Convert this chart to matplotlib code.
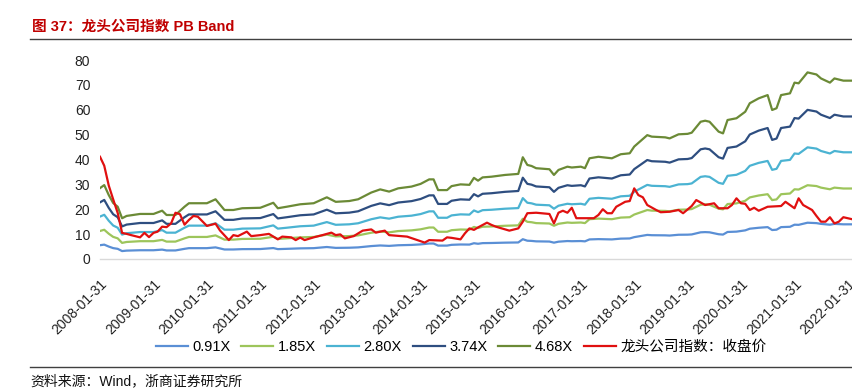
import matplotlib
matplotlib.use('Agg')
import matplotlib.pyplot as plt
import matplotlib.dates as mdates
from matplotlib.lines import Line2D
import numpy as np
import pandas as pd

plt.rcParams['font.family'] = ['Liberation Sans', 'Noto Sans CJK SC', 'DejaVu Sans']

# ---------------- data ----------------
title = '图 37：龙头公司指数 PB Band'
source = '资料来源：Wind，浙商证券研究所'

pb_multiples = [0.91, 1.85, 2.80, 3.74, 4.68]
band_labels = ['0.91X', '1.85X', '2.80X', '3.74X', '4.68X']
close_label = '龙头公司指数：收盘价'

# book value per share (month-end)
bvps_dates = ['2008-01', '2008-02', '2008-03', '2008-04', '2008-05', '2008-06', '2008-07', '2008-10',
              '2009-01', '2009-03', '2009-04', '2009-06', '2009-08', '2009-09',
              '2010-01', '2010-03', '2010-05', '2010-07', '2010-09',
              '2011-01', '2011-04', '2011-05', '2011-07', '2011-10',
              '2012-01', '2012-04', '2012-06', '2012-09', '2012-11',
              '2013-02', '2013-04', '2013-06', '2013-08', '2013-11',
              '2014-01', '2014-03', '2014-04', '2014-05', '2014-07', '2014-08', '2014-10', '2014-12',
              '2015-01', '2015-02', '2015-03', '2015-05', '2015-08', '2015-11', '2015-12',
              '2016-01', '2016-02', '2016-03', '2016-06', '2016-07', '2016-08', '2016-10', '2016-11',
              '2017-01', '2017-02', '2017-03', '2017-05', '2017-08', '2017-10', '2017-12',
              '2018-01', '2018-04', '2018-05', '2018-08', '2018-09', '2018-11',
              '2019-01', '2019-02', '2019-04', '2019-05', '2019-06', '2019-08', '2019-09', '2019-10', '2019-12',
              '2020-02', '2020-03', '2020-05', '2020-07', '2020-08', '2020-09', '2020-10', '2020-12',
              '2021-01', '2021-02', '2021-04', '2021-06', '2021-07', '2021-09', '2021-10', '2021-12',
              '2022-02']
bvps = [6.09, 6.35, 5.49, 4.81, 4.49, 3.50, 3.70, 3.87,
        3.87, 4.15, 3.78, 3.78, 4.49, 4.79,
        4.79, 5.13, 4.21, 4.21, 4.36,
        4.40, 4.83, 4.36, 4.49, 4.70,
        4.79, 5.30, 4.91, 4.98, 5.13,
        5.71, 5.98, 5.79, 6.07, 6.22,
        6.45, 6.84, 6.84, 5.92, 5.92, 6.26, 6.41, 6.37,
        6.97, 6.73, 7.01, 7.07, 7.22, 7.31, 8.74,
        8.08, 7.99, 7.80, 7.71, 7.22, 7.65, 7.93, 7.86,
        7.93, 7.80, 8.65, 8.78, 8.65, 9.00, 9.08,
        9.66, 10.64, 10.51, 10.45, 10.36, 10.71,
        10.75, 10.85, 11.79, 11.88, 11.79, 10.94, 10.79, 11.94, 12.09,
        12.65, 13.38, 13.80, 14.08, 12.80, 12.95, 14.08, 14.23,
        15.15, 15.09, 16.03, 15.85, 15.51, 15.15, 15.51, 15.32,
        15.32]

close_dates = ['2008-01', '2008-02', '2008-03', '2008-04', '2008-05', '2008-06', '2008-07', '2008-08',
               '2008-10', '2008-11', '2008-12',
               '2009-01', '2009-02', '2009-03', '2009-04', '2009-05', '2009-06', '2009-07', '2009-08',
               '2009-09', '2009-10', '2009-11',
               '2010-01', '2010-03', '2010-04', '2010-06', '2010-07', '2010-08', '2010-10', '2010-11',
               '2011-01', '2011-03', '2011-05', '2011-06', '2011-08', '2011-09', '2011-10', '2011-11',
               '2012-01', '2012-03', '2012-05', '2012-06', '2012-07', '2012-08', '2012-10', '2012-12',
               '2013-02', '2013-03', '2013-05', '2013-06', '2013-10',
               '2014-02', '2014-03', '2014-06', '2014-07', '2014-08', '2014-10', '2014-11', '2014-12',
               '2015-01', '2015-02', '2015-04', '2015-05', '2015-06', '2015-09', '2015-11', '2015-12',
               '2016-01', '2016-03', '2016-06', '2016-07', '2016-08', '2016-09', '2016-10', '2016-11', '2016-12',
               '2017-04', '2017-05', '2017-06', '2017-07', '2017-08', '2017-09', '2017-11', '2017-12',
               '2018-01', '2018-02', '2018-03', '2018-04', '2018-06', '2018-07', '2018-09', '2018-11', '2018-12',
               '2019-02', '2019-03', '2019-05', '2019-07', '2019-08', '2019-10', '2019-11', '2019-12',
               '2020-01', '2020-02', '2020-03', '2020-04', '2020-05', '2020-07', '2020-10', '2020-11',
               '2021-01', '2021-02', '2021-03', '2021-05', '2021-06', '2021-07', '2021-08', '2021-09',
               '2021-10', '2021-11', '2021-12', '2022-02']
close = [41.1, 37.5, 29.5, 24.0, 18.5, 10.5, 10.1, 9.6,
         8.7, 10.5, 8.8,
         10.5, 11.0, 13.0, 12.8, 14.3, 18.6, 18.0, 13.8,
         15.7, 17.3, 17.0,
         13.3, 14.2, 11.5, 7.6, 9.6, 9.2, 11.0, 9.2,
         9.6, 10.1, 7.9, 9.0, 8.7, 7.6, 8.6, 7.6,
         8.7, 9.6, 10.6, 9.6, 9.9, 8.3, 9.2, 11.4,
         11.9, 10.6, 11.4, 9.6, 9.0,
         6.6, 7.6, 7.4, 8.7, 8.5, 7.9, 10.3, 12.3,
         11.7, 12.7, 14.6, 13.7, 13.0, 11.4, 12.3, 15.0,
         18.4, 18.6, 18.1, 14.3, 18.6, 19.4, 18.6, 20.6, 16.4,
         16.4, 17.7, 20.0, 18.4, 18.4, 21.0, 23.0, 23.3,
         28.4, 25.7, 24.8, 21.7, 19.7, 18.8, 19.0, 19.7, 18.4,
         21.3, 23.7, 21.7, 22.4, 20.4, 20.4, 21.7, 24.4,
         22.4, 22.2, 19.7, 20.6, 19.4, 21.0, 21.3, 23.0,
         20.4, 24.4, 21.7, 19.7, 17.3, 15.0, 15.0, 16.8,
         14.3, 15.0, 16.8, 16.0]

tick_labels = ['2008-01-31', '2009-01-31', '2010-01-31', '2011-01-31', '2012-01-31',
               '2013-01-31', '2014-01-31', '2015-01-31', '2016-01-31', '2017-01-31',
               '2018-01-31', '2019-01-31', '2020-01-31', '2021-01-31', '2022-01-31']
y_ticks = [0, 10, 20, 30, 40, 50, 60, 70, 80]

# ---------------- style ----------------
band_colors = ['#5A8FD5', '#9DC55B', '#4BB3D2', '#2E4E80', '#6B8A36']
close_color = '#E01010'

W, H = 852, 390
fig = plt.figure(figsize=(W / 100, H / 100), dpi=100)
ax = fig.add_axes([100 / W, (H - 259) / H, 1 - 100 / W, (259 - 60) / H])

bd = pd.to_datetime(bvps_dates) + pd.offsets.MonthEnd(0)
cd = pd.to_datetime(close_dates) + pd.offsets.MonthEnd(0)
bv = np.array(bvps)

handles = []
for m, lab, col in zip(pb_multiples, band_labels, band_colors):
    h, = ax.plot(bd, bv * m, color=col, lw=1.6, label=lab, solid_joinstyle='round')
    handles.append(h)
h, = ax.plot(cd, close, color=close_color, lw=1.6, label=close_label, solid_joinstyle='round')
handles.append(h)

ax.set_ylim(0, 80)
ax.set_yticks(y_ticks)
ax.set_xlim(pd.Timestamp('2008-01-31'), pd.Timestamp('2022-02-28'))
tick_pos = pd.to_datetime(tick_labels)
ax.set_xticks(tick_pos)
ax.set_xticklabels(tick_labels, rotation=45, ha='right', va='top', rotation_mode='anchor')

for s in ['top', 'right', 'left']:
    ax.spines[s].set_visible(False)
ax.spines['bottom'].set_color('#D9D9D9')
ax.spines['bottom'].set_linewidth(1.0)
ax.tick_params(axis='both', length=0, labelsize=10, colors='#222222')
ax.tick_params(axis='y', pad=7)
ax.tick_params(axis='x', pad=13)
ax.patch.set_visible(False)

fig.legend(handles=handles, loc='center', bbox_to_anchor=(461 / W, 1 - 347 / H), ncol=6,
           frameon=False, fontsize=10.5, handlelength=2.2, handletextpad=0.3,
           columnspacing=0.75)

fig.text(32 / W, 1 - 27 / H, title, color='#C00000', fontsize=10.5, fontweight='bold',
         ha='left', va='center')
fig.add_artist(Line2D([30 / W, 1.0], [1 - 39 / H] * 2, color='#404040', lw=1.0))
fig.add_artist(Line2D([30 / W, 1.0], [1 - 367 / H] * 2, color='#404040', lw=1.0))
fig.text(30 / W, 1 - 381 / H, source, color='#111111', fontsize=10, ha='left', va='center')

fig.savefig('out.png', dpi=100)
